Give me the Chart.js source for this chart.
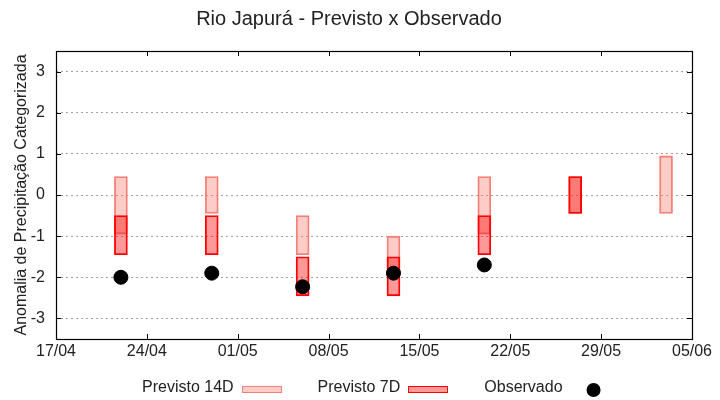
<!DOCTYPE html>
<html>
<head>
<meta charset="utf-8">
<script src="https://cdn.jsdelivr.net/npm/chart.js@4.4.1/dist/chart.umd.min.js"></script>
<style>
  body { margin: 0; background: #fff; }
</style>
</head>
<body>
<canvas id="grafico" width="720" height="400"></canvas>
<script>
// dados
const inicio = '17/04';
const datas = ['22/04', '29/04', '06/05', '13/05', '20/05', '27/05', '03/06'];
const prev14Min = [-0.95, -0.45, -1.45, -1.95, -0.95, -0.45, -0.45];
const prev14Max = [0.45, 0.45, -0.5, -1.0, 0.45, 0.45, 0.95];
const prev7Min = [-1.45, -1.45, -2.45, -2.45, -1.45, -0.45, null];
const prev7Max = [-0.5, -0.5, -1.5, -1.5, -0.5, 0.45, null];
const observado = [-2.0, -1.9, -2.23, -1.9, -1.7, null, null];
const yTicks = [-3, -2, -1, 0, 1, 2, 3];
const xTicks = ['17/04', '24/04', '01/05', '08/05', '15/05', '22/05', '29/05', '05/06'];

// converte dd/mm em dias desde o inicio
function dia(s) {
  const [d, m] = s.split('/').map(Number);
  const [d0, m0] = inicio.split('/').map(Number);
  return Math.round((Date.UTC(2024, m - 1, d) - Date.UTC(2024, m0 - 1, d0)) / 86400000);
}
function rotulo(n) {
  const [d0, m0] = inicio.split('/').map(Number);
  const t = new Date(Date.UTC(2024, m0 - 1, d0) + n * 86400000);
  return String(t.getUTCDate()).padStart(2, '0') + '/' + String(t.getUTCMonth() + 1).padStart(2, '0');
}

const dados14 = [], dados7 = [], dadosObs = [];
datas.forEach((s, i) => {
  const x = dia(s);
  if (prev14Min[i] !== null) dados14.push({x: x, y: [prev14Min[i], prev14Max[i]]});
  if (prev7Min[i] !== null) dados7.push({x: x, y: [prev7Min[i], prev7Max[i]]});
  if (observado[i] !== null) dadosObs.push({x: x, y: observado[i]});
});

Chart.defaults.font.family = 'Liberation Sans, Arial, sans-serif';
Chart.defaults.color = '#222';

// moldura, marcas internas e legenda no estilo gnuplot
const moldura = {
  id: 'moldura',
  afterDraw(chart) {
    const c = chart.ctx, a = chart.chartArea;
    const sx = chart.scales.x, sy = chart.scales.y;
    c.save();
    c.strokeStyle = '#000';
    c.lineWidth = 1;
    c.beginPath();
    sx.ticks.forEach(t => {
      const px = Math.round(sx.getPixelForValue(t.value)) + 0.5;
      c.moveTo(px, a.bottom); c.lineTo(px, a.bottom - 5);
      c.moveTo(px, a.top); c.lineTo(px, a.top + 5);
    });
    sy.ticks.forEach(t => {
      const py = Math.round(sy.getPixelForValue(t.value)) + 0.5;
      c.moveTo(a.left, py); c.lineTo(a.left + 5, py);
      c.moveTo(a.right, py); c.lineTo(a.right - 5, py);
    });
    c.stroke();
    c.lineWidth = 1.2;
    c.strokeRect(Math.round(a.left) + 0.5, Math.round(a.top) + 0.5, Math.round(a.right - a.left), Math.round(a.bottom - a.top));

    // legenda
    c.font = '16px ' + Chart.defaults.font.family;
    c.textBaseline = 'middle';
    const yl = 388;
    let x = 142;
    chart.data.datasets.forEach(ds => {
      c.fillStyle = '#222';
      c.fillText(ds.label, x, yl);
      x += c.measureText(ds.label).width + 8;
      if (ds.type === 'line') {
        c.fillStyle = '#000';
        c.beginPath();
        c.arc(x + 23, yl + 2, 7, 0, Math.PI * 2);
        c.fill();
      } else {
        const bx = Math.round(x);
        c.fillStyle = ds.backgroundColor;
        c.fillRect(bx, yl - 2, 40, 7);
        c.strokeStyle = ds.borderColor;
        c.lineWidth = 1;
        c.strokeRect(bx + 0.5, yl - 1.5, 39, 6);
        x += 40 + 36;
      }
    });
    c.restore();
  }
};

new Chart(document.getElementById('grafico'), {
  type: 'bar',
  data: {
    datasets: [
      {
        label: 'Previsto 14D',
        data: dados14,
        backgroundColor: 'rgba(250,128,114,0.4)',
        borderColor: 'rgb(244,128,120)',
        borderWidth: 1.2,
        borderSkipped: false,
        barThickness: 13,
        grouped: false,
        order: 3
      },
      {
        label: 'Previsto 7D',
        data: dados7,
        backgroundColor: 'rgba(255,0,0,0.4)',
        borderColor: 'rgb(255,0,0)',
        borderWidth: 1.2,
        borderSkipped: false,
        barThickness: 13,
        grouped: false,
        order: 2
      },
      {
        type: 'line',
        label: 'Observado',
        data: dadosObs,
        showLine: false,
        pointRadius: 7,
        pointHoverRadius: 7,
        pointBackgroundColor: '#000',
        pointBorderColor: '#000',
        order: 1
      }
    ]
  },
  options: {
    responsive: false,
    animation: false,
    devicePixelRatio: 1,
    layout: { padding: { left: 6, right: 28, top: 0, bottom: 39 } },
    plugins: {
      legend: { display: false },
      tooltip: { enabled: false },
      title: {
        display: true,
        text: 'Rio Japurá - Previsto x Observado',
        font: { size: 20, weight: 'normal' },
        color: '#222',
        padding: { top: 7, bottom: 20 }
      }
    },
    scales: {
      x: {
        type: 'linear',
        offset: false,
        min: dia(xTicks[0]),
        max: dia(xTicks[xTicks.length - 1]),
        afterBuildTicks: s => { s.ticks = xTicks.map(t => ({value: dia(t)})); },
        afterFit: s => { s.height = 22; },
        ticks: { callback: v => rotulo(v), font: { size: 16 }, padding: 3, maxRotation: 0, autoSkip: false },
        grid: { display: false, drawTicks: false },
        border: { display: false }
      },
      y: {
        min: -3.5,
        max: 3.5,
        afterBuildTicks: s => { s.ticks = yTicks.map(v => ({value: v})); },
        afterFit: s => { s.width = 50; },
        ticks: { font: { size: 16 }, padding: 11 },
        grid: { color: '#a0a0a0', lineWidth: 1, drawTicks: false },
        border: { display: false, dash: [2, 3] },
        title: {
          display: true,
          text: 'Anomalia de Precipitação Categorizada',
          font: { size: 16 },
          color: '#222',
          padding: { top: 6, bottom: 0 }
        }
      }
    }
  },
  plugins: [moldura]
});
</script>
</body>
</html>
